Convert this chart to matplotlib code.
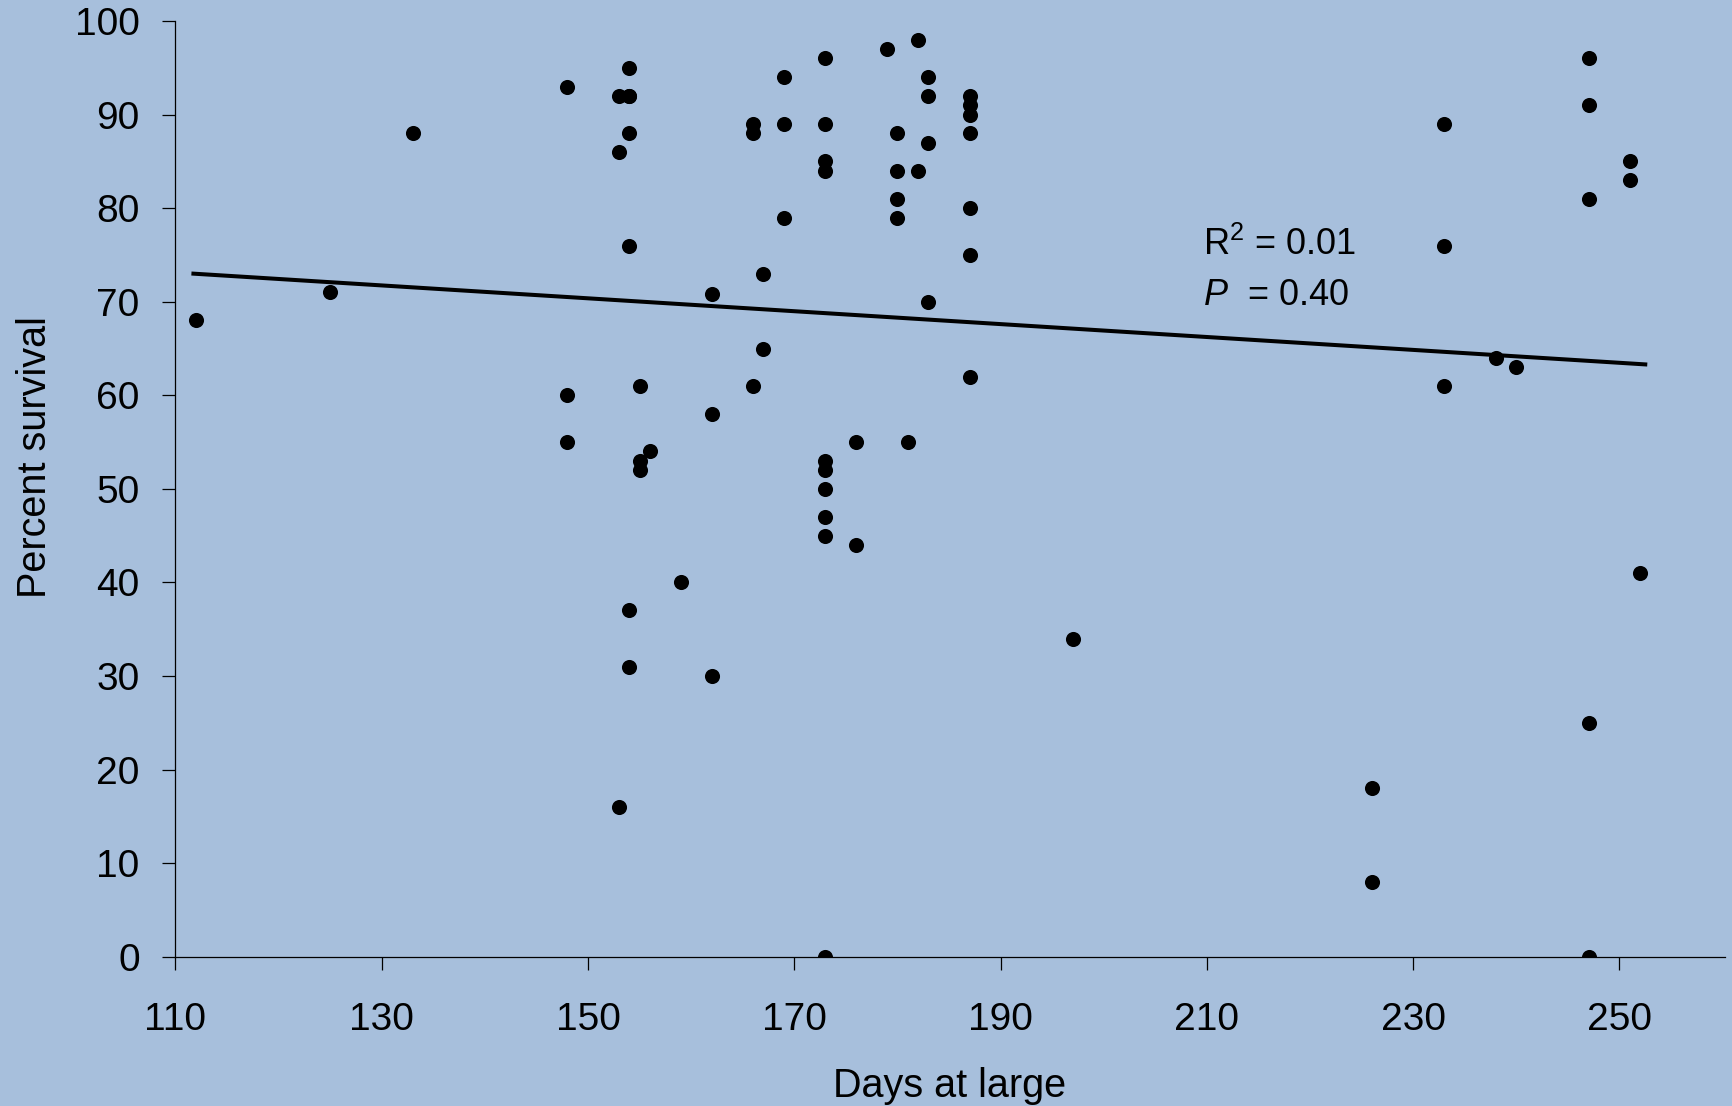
import matplotlib
matplotlib.use("Agg")
import matplotlib.pyplot as plt

plt.rcParams["font.family"] = ["Liberation Sans", "DejaVu Sans"]
plt.rcParams["mathtext.fontset"] = "custom"
plt.rcParams["mathtext.rm"] = "Liberation Sans"
plt.rcParams["mathtext.it"] = "Liberation Sans:italic"

# Days at large vs. percent survival for each release group
days = [112, 125, 133,
        148, 148, 148,
        153, 153, 153,
        154, 154, 154, 154, 154, 154, 154,
        155, 155, 155, 156, 159,
        162, 162, 162,
        166, 166, 166, 167, 167,
        169, 169, 169,
        173, 173, 173, 173, 173, 173, 173, 173, 173, 173,
        176, 176, 179,
        180, 180, 180, 180, 181,
        182, 182,
        183, 183, 183, 183,
        187, 187, 187, 187, 187, 187, 187,
        197, 226, 226,
        233, 233, 233, 238, 240,
        247, 247, 247, 247, 247,
        251, 251, 252]
survival = [68, 71, 88,
            93, 60, 55,
            86, 92, 16,
            92, 95, 88, 76, 37, 31, 92,
            61, 53, 52, 54, 40,
            30, 58, 70.8,
            89, 88, 61, 73, 65,
            94, 89, 79,
            96, 89, 85, 84, 53, 52, 50, 47, 45, 0,
            55, 44, 97,
            88, 84, 81, 79, 55,
            98, 84,
            94, 92, 87, 70,
            92, 91, 90, 88, 80, 75, 62,
            34, 18, 8,
            89, 76, 61, 64, 63,
            96, 91, 81, 25, 0,
            85, 83, 41]

# Least-squares trend line end points
fit_days = [111.75, 252.5]
fit_survival = [73.0, 63.3]

r_squared = 0.01
p_value = 0.40

x_ticks = [110, 130, 150, 170, 190, 210, 230, 250]
y_ticks = [0, 10, 20, 30, 40, 50, 60, 70, 80, 90, 100]

bg = "#a7bfdc"

fig = plt.figure(figsize=(17.33, 11.06), dpi=100, facecolor=bg)
ax = fig.add_axes([0.1012, 0.1350, 0.8940, 0.8460])
ax.set_facecolor("none")

ax.scatter(days, survival, s=118, color="black", zorder=3, linewidths=0)
ax.plot(fit_days, fit_survival, color="black", linewidth=2.9, zorder=2)

ax.set_xlim(110, 260.2)
ax.set_ylim(0, 100)
ax.set_xticks(x_ticks)
ax.set_yticks(y_ticks)

for side in ("top", "right"):
    ax.spines[side].set_visible(False)
for side in ("left", "bottom"):
    ax.spines[side].set_linewidth(0.9)
    ax.spines[side].set_color("black")
ax.spines["bottom"].set_bounds(110, 260.2)

ax.tick_params(axis="both", direction="out", length=9.2, width=0.9,
               color="black", labelsize=28, labelcolor="black")
ax.tick_params(axis="x", pad=23.5)
ax.tick_params(axis="y", pad=16.5)

ax.set_xlabel("Days at large", fontsize=28.5, va="baseline")
ax.xaxis.set_label_coords(0.5, -0.1496)
ax.set_ylabel("Percent survival", fontsize=28.5, va="center")
ax.yaxis.set_label_coords(-0.0909, 0.5335)

ax.text(209.6, 75.0, r"R$^{2}$ = %.2f" % r_squared, fontsize=26,
        ha="left", va="baseline")
ax.text(209.6, 69.65, r"$\mathit{P}$  = %.2f" % p_value, fontsize=26,
        ha="left", va="baseline")

fig.savefig("out.png", dpi=100, facecolor=bg)
